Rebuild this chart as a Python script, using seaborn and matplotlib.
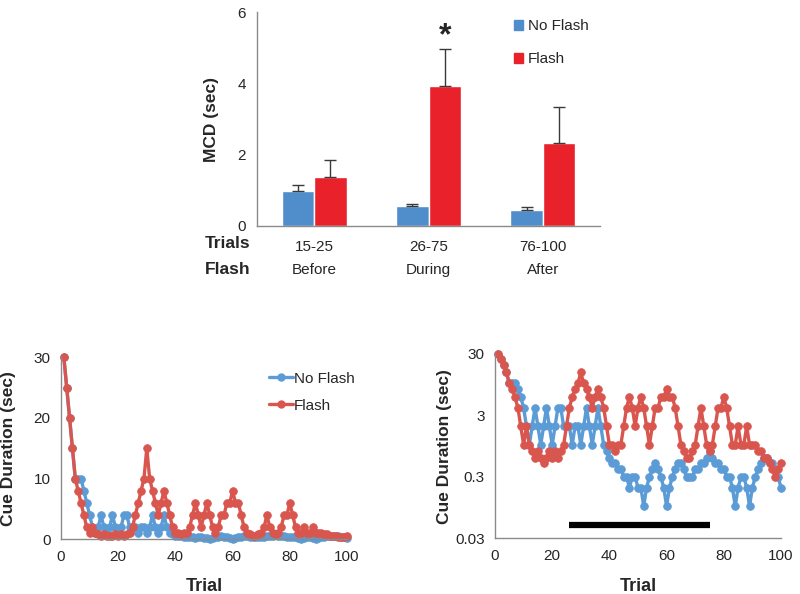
import numpy as np
import pandas as pd
import matplotlib
matplotlib.use("Agg")
import matplotlib.pyplot as plt
from matplotlib.patches import Patch
from matplotlib.lines import Line2D
from matplotlib.ticker import MultipleLocator, NullLocator, FixedLocator
import seaborn as sns

# ---------------- data ----------------
periods = ["15-25", "26-75", "76-100"]
phases = ["Before", "During", "After"]
conditions = ["No Flash", "Flash"]
mcd_noflash = [0.98, 0.57, 0.46]
mcd_flash = [1.37, 3.92, 2.34]
err_noflash = [0.16, 0.06, 0.07]
err_flash = [0.48, 1.04, 1.01]

trials = list(range(1, 101))
cue_noflash = [
    30, 25, 20, 15, 10, 10, 10, 8, 6, 4,
    2, 1, 2, 4, 2, 1, 2, 4, 2, 1,
    2, 4, 4, 2, 2, 2, 1, 2, 2, 1,
    2, 4, 2, 1, 2, 4, 2, 1, 0.8, 0.6,
    0.5, 0.5, 0.4, 0.4, 0.3, 0.3, 0.2, 0.3, 0.3, 0.2,
    0.2, 0.1, 0.2, 0.3, 0.4, 0.5, 0.4, 0.3, 0.2, 0.1,
    0.2, 0.3, 0.4, 0.5, 0.5, 0.4, 0.3, 0.3, 0.3, 0.4,
    0.4, 0.5, 0.5, 0.6, 0.8, 0.6, 0.5, 0.5, 0.4, 0.4,
    0.3, 0.3, 0.2, 0.1, 0.2, 0.3, 0.3, 0.2, 0.1, 0.2,
    0.3, 0.4, 0.5, 0.6, 0.6, 0.5, 0.5, 0.4, 0.3, 0.2,
]
cue_flash = [
    30, 25, 20, 15, 10, 8, 6, 4, 2, 1,
    2, 1, 0.8, 0.6, 0.8, 0.6, 0.5, 0.6, 0.8, 0.6,
    0.8, 0.6, 0.8, 1, 2, 4, 6, 8, 10, 15,
    10, 8, 6, 4, 6, 8, 6, 4, 2, 1,
    1, 0.8, 1, 1, 2, 4, 6, 4, 2, 4,
    6, 4, 2, 1, 2, 4, 4, 6, 6, 8,
    6, 6, 4, 2, 1, 0.8, 0.6, 0.6, 0.8, 1,
    2, 4, 2, 1, 0.8, 1, 2, 4, 4, 6,
    4, 2, 1, 1, 2, 1, 1, 2, 1, 1,
    1, 0.8, 0.8, 0.6, 0.6, 0.5, 0.4, 0.3, 0.4, 0.5,
]
flash_start, flash_end = 26, 75
flash_bar_level = 0.05

# ---------------- style ----------------
sns.set_style("white")
plt.rcParams["font.family"] = ["Liberation Sans", "DejaVu Sans"]

bar_blue = "#4F8ECB"
bar_red = "#E8212A"
line_blue = "#5B9BD6"
line_red = "#D9564F"
spine_gray = "#8a8a8a"

fig = plt.figure(figsize=(8.0, 5.94), dpi=100)

def style_axes(ax):
    for s in ["top", "right"]:
        ax.spines[s].set_visible(False)
    for s in ["left", "bottom"]:
        ax.spines[s].set_color(spine_gray)
        ax.spines[s].set_linewidth(1.0)
    ax.tick_params(which="both", color=spine_gray, direction="out")

# ---------------- top bar chart ----------------
axT = fig.add_axes([257 / 800, 1 - 226 / 594, 343 / 800, 214 / 594])
df_bar = pd.DataFrame({
    "Period": periods * 2,
    "Condition": [conditions[0]] * 3 + [conditions[1]] * 3,
    "MCD": mcd_noflash + mcd_flash,
})
sns.barplot(data=df_bar, x="Period", y="MCD", hue="Condition",
            order=periods, hue_order=conditions,
            palette=[bar_blue, bar_red], width=0.57, gap=0,
            errorbar=None, saturation=1, legend=False, ax=axT)
# error bars (upper only)
patches = sorted(axT.patches, key=lambda p: p.get_x())
vals = []
for i in range(3):
    vals.append((mcd_noflash[i], err_noflash[i]))
    vals.append((mcd_flash[i], err_flash[i]))
for p, (v, e) in zip(patches, vals):
    xc = p.get_x() + p.get_width() / 2
    axT.errorbar([xc], [v], yerr=[[0], [e]], fmt="none", ecolor="#3a3a3a",
                 elinewidth=1.0, capsize=4, capthick=1.0, zorder=3)
style_axes(axT)
axT.set_xlim(-0.5, 2.5)
axT.set_ylim(0, 6)
axT.set_yticks([0, 2, 4, 6])
axT.yaxis.set_minor_locator(MultipleLocator(0.5))
axT.xaxis.set_minor_locator(FixedLocator([0.5, 1.5, 2.5]))
axT.tick_params(axis="x", which="major", length=0, labelsize=11, pad=10)
axT.tick_params(axis="x", which="minor", length=5)
axT.tick_params(axis="y", which="major", length=5, labelsize=11, pad=3)
axT.tick_params(axis="y", which="minor", length=3)
axT.set_xlabel("")
axT.set_ylabel("MCD (sec)", fontsize=12.5, fontweight="bold")
axT.yaxis.set_label_coords(-0.11, 0.5)
trans = matplotlib.transforms.blended_transform_factory(axT.transData, axT.transAxes)
for i, ph in enumerate(phases):
    axT.text(i, -0.205, ph, transform=trans, ha="center", va="center", fontsize=11)
axT.text(-0.02, -0.08, "Trials", transform=axT.transAxes, ha="right", va="center",
         fontsize=12.5, fontweight="bold")
axT.text(-0.02, -0.205, "Flash", transform=axT.transAxes, ha="right", va="center",
         fontsize=12.5, fontweight="bold")
axT.text(patches[3].get_x() + patches[3].get_width() / 2, 5.33, "*",
         ha="center", va="center", fontsize=23, fontweight="bold")
axT.legend(handles=[Patch(color=bar_blue, label=conditions[0]),
                    Patch(color=bar_red, label=conditions[1])],
           loc="upper left", bbox_to_anchor=(0.71, 1.03), frameon=False,
           handlelength=0.6, handleheight=0.6, handletextpad=0.3,
           labelspacing=1.25, fontsize=11)

# ---------------- bottom line charts ----------------
df_line = pd.DataFrame({
    "Trial": trials * 2,
    "Cue": cue_noflash + cue_flash,
    "Condition": [conditions[0]] * 100 + [conditions[1]] * 100,
})

def draw_lines(ax):
    sns.lineplot(data=df_line, x="Trial", y="Cue", hue="Condition",
                 hue_order=conditions, palette=[line_blue, line_red],
                 marker="o", markersize=5.5, linewidth=2.4, legend=False,
                 ax=ax)
    for ln in ax.lines:
        ln.set_markeredgecolor(ln.get_color())
        ln.set_markeredgewidth(0.6)
        ln.set_clip_on(False)

axL = fig.add_axes([61 / 800, 1 - 539.3 / 594, 286 / 800, 182 / 594])
draw_lines(axL)
style_axes(axL)
axL.set_xlim(0, 100)
axL.set_ylim(0, 30)
axL.set_xticks([0, 20, 40, 60, 80, 100])
axL.set_yticks([0, 10, 20, 30])
axL.tick_params(axis="both", which="major", length=4, labelsize=11)
axL.set_xlabel("Trial", fontsize=13, fontweight="bold")
axL.set_ylabel("Cue Duration (sec)", fontsize=12.5, fontweight="bold")
axL.yaxis.set_label_coords(-0.157, 0.5)
axL.xaxis.set_label_coords(0.5, -0.215)
axL.legend(handles=[Line2D([], [], color=line_blue, lw=2.4, marker="o", ms=5,
                           mec=line_blue, label=conditions[0]),
                    Line2D([], [], color=line_red, lw=2.4, marker="o", ms=5,
                           mec=line_red, label=conditions[1])],
           loc="upper left", bbox_to_anchor=(0.705, 0.955), frameon=False,
           handlelength=1.6, handletextpad=0.05, labelspacing=0.85,
           fontsize=11, borderaxespad=0)

axR = fig.add_axes([495 / 800, 1 - 538.3 / 594, 286 / 800, 184.3 / 594])
draw_lines(axR)
axR.plot([flash_start, flash_end], [flash_bar_level, flash_bar_level],
         color="black", lw=4.5, solid_capstyle="butt", zorder=4)
style_axes(axR)
axR.set_yscale("log")
axR.set_xlim(0, 100)
axR.set_ylim(0.03, 30)
axR.set_yticks([0.03, 0.3, 3, 30])
axR.set_yticklabels(["0.03", "0.3", "3", "30"])
axR.yaxis.set_minor_locator(NullLocator())
axR.set_xticks([0, 20, 40, 60, 80, 100])
axR.xaxis.set_minor_locator(MultipleLocator(2))
axR.tick_params(axis="both", which="major", length=4, labelsize=11)
axR.tick_params(axis="x", which="minor", length=2.5)
axR.set_xlabel("Trial", fontsize=13, fontweight="bold")
axR.set_ylabel("Cue Duration (sec)", fontsize=12.5, fontweight="bold")
axR.yaxis.set_label_coords(-0.15, 0.5)
axR.xaxis.set_label_coords(0.5, -0.215)

fig.savefig("out.png", dpi=100)
